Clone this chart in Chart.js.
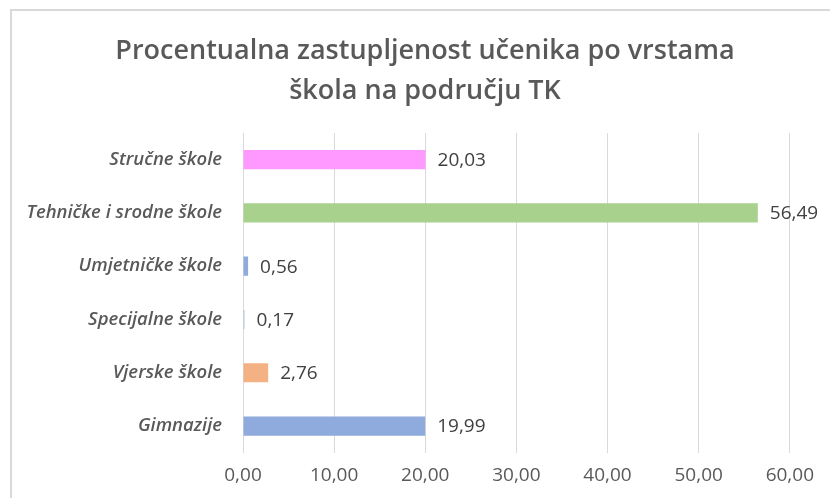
<!DOCTYPE html>
<html>
<head>
<meta charset="utf-8">
<script src="https://cdn.jsdelivr.net/npm/chart.js@4.4.1/dist/chart.umd.min.js"></script>
<style>
    html, body { margin: 0; padding: 0; background: #ffffff; }
    #wrap { width: 830px; height: 498px; position: relative; }
</style>
</head>
<body>
<div id="wrap"><canvas id="skoleChart"></canvas></div>
<script>
// podaci s grafikona
const vrsteSkola = [
    "Stručne škole",
    "Tehničke i srodne škole",
    "Umjetničke škole",
    "Specijalne škole",
    "Vjerske škole",
    "Gimnazije"
];
const procenti = [20.03, 56.49, 0.56, 0.17, 2.76, 19.99];
const bojeStupaca = ["#FF99FF", "#A9D18E", "#8FAADC", "#B4C7E7", "#F4B183", "#8FAADC"];
const naslov = ["Procentualna zastupljenost učenika po vrstama", "škola na području TK"];
const xMax = 60;
const xKorak = 10;

const font = "'Open Sans', 'DejaVu Sans', sans-serif";

const formatBroja = (v) => v.toFixed(2).replace(".", ",");

// okvir oko grafikona (kao u Excelu) + naslov
const okvirPlugin = {
    id: "okvir",
    beforeDraw(chart) {
        const ctx = chart.ctx;
        ctx.save();
        ctx.strokeStyle = "#d9d9d9";
        ctx.lineWidth = 2;
        ctx.beginPath();
        ctx.moveTo(11, chart.height);
        ctx.lineTo(11, 10);
        ctx.lineTo(chart.width, 10);
        ctx.stroke();

        // naslov je malo desno od sredine, kao u originalu
        ctx.fillStyle = "#595959";
        ctx.font = "600 27px " + font;
        ctx.textAlign = "center";
        ctx.textBaseline = "middle";
        naslov.forEach((red, i) => {
            ctx.fillText(red, 425, 51 + i * 40);
        });
        ctx.restore();
    }
};

// vrijednosti pored stupaca
const oznakePlugin = {
    id: "oznake",
    afterDatasetsDraw(chart) {
        const ctx = chart.ctx;
        const meta = chart.getDatasetMeta(0);
        ctx.save();
        ctx.font = "19px " + font;
        ctx.fillStyle = "#404040";
        ctx.textAlign = "left";
        ctx.textBaseline = "middle";
        meta.data.forEach((bar, i) => {
            ctx.fillText(formatBroja(chart.data.datasets[0].data[i]), bar.x + 12, bar.y + 1);
        });
        ctx.restore();
    }
};

const ctx = document.getElementById("skoleChart").getContext("2d");
new Chart(ctx, {
    type: "bar",
    data: {
        labels: vrsteSkola,
        datasets: [{
            data: procenti,
            backgroundColor: bojeStupaca,
            borderWidth: 0,
            barPercentage: 0.36,
            categoryPercentage: 1
        }]
    },
    options: {
        indexAxis: "y",
        responsive: true,
        maintainAspectRatio: false,
        animation: false,
        layout: { padding: { top: 133, left: 20, right: 39, bottom: 0 } },
        plugins: {
            legend: { display: false },
            tooltip: { enabled: false },
            title: { display: false }
        },
        scales: {
            x: {
                min: 0,
                max: xMax,
                ticks: {
                    stepSize: xKorak,
                    padding: 16,
                    color: "#595959",
                    font: { family: font, size: 19, lineHeight: 0.7 },
                    callback: (v) => formatBroja(v)
                },
                grid: { color: "#d9d9d9", drawTicks: false },
                border: { display: false }
            },
            y: {
                afterFit: (s) => { s.width = 223; },
                ticks: {
                    padding: 21,
                    color: "#595959",
                    font: { family: font, size: 18.5, style: "italic", weight: "600" }
                },
                grid: { display: false, drawTicks: false },
                border: { display: false }
            }
        }
    },
    plugins: [okvirPlugin, oznakePlugin]
});
</script>
</body>
</html>
